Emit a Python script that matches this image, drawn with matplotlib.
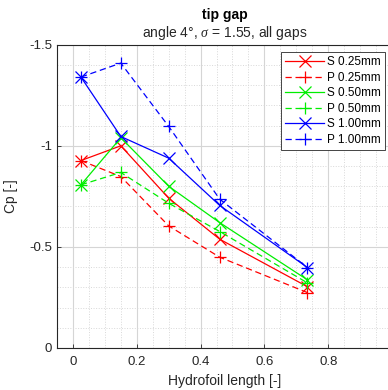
import matplotlib
matplotlib.use("Agg")
import matplotlib.pyplot as plt
from matplotlib.ticker import MultipleLocator

plt.rcParams['font.family'] = ['Liberation Sans', 'DejaVu Sans']
plt.rcParams['mathtext.fontset'] = 'custom'
plt.rcParams['mathtext.it'] = 'Liberation Serif:italic'

# hydrofoil positions (same for every series)
x_pos = [0.025, 0.15, 0.30, 0.46, 0.735]

# Cp values
s_025 = [-0.927, -1.00, -0.741, -0.538, -0.303]
p_025 = [-0.927, -0.848, -0.604, -0.449, -0.274]
s_050 = [-0.807, -1.04, -0.800, -0.620, -0.337]
p_050 = [-0.807, -0.868, -0.716, -0.576, -0.322]
s_100 = [-1.340, -1.046, -0.939, -0.705, -0.398]
p_100 = [-1.340, -1.409, -1.096, -0.736, -0.398]

labels = ['S 0.25mm', 'P 0.25mm', 'S 0.50mm', 'P 0.50mm', 'S 1.00mm', 'P 1.00mm']
series = [s_025, p_025, s_050, p_050, s_100, p_100]
colors = ['#ff0000', '#ff0000', '#00ee00', '#00ee00', '#0000ff', '#0000ff']
styles = ['-', '--', '-', '--', '-', '--']
markers = ['x', '+', 'x', '+', 'x', '+']

W, H = 388, 390
fig = plt.figure(figsize=(W / 100, H / 100), dpi=100)
# axes runs past the right edge of the picture, like the reference
ax = fig.add_axes([57 / W, 1 - 348 / H, 335 / W, (348 - 44.7) / H])

for y, lab, c, ls, m in zip(series, labels, colors, styles, markers):
    ax.plot(x_pos, y, color=c, linestyle=ls, marker=m, markersize=9,
            markeredgewidth=0.9, linewidth=0.9, label=lab, dashes=(5, 3) if ls == '--' else (None, None))

ax.set_xlim(-0.05, 1.0)
ax.set_ylim(0, -1.5)
ax.set_xticks([0, 0.2, 0.4, 0.6, 0.8, 1.0])
ax.set_xticklabels(['0', '0.2', '0.4', '0.6', '0.8', '1'])
ax.set_yticks([-1.5, -1, -0.5, 0])
ax.set_yticklabels(['-1.5', '-1', '-0.5', '0'])
ax.xaxis.set_minor_locator(MultipleLocator(0.05))
ax.yaxis.set_minor_locator(MultipleLocator(0.1))

ax.grid(True, which='major', color='#d5d5d5', linewidth=0.8)
ax.grid(True, which='minor', color='#d8d8d8', linestyle=':', linewidth=0.7)
ax.set_axisbelow(True)

for s in ax.spines.values():
    s.set_color('#262626')
    s.set_linewidth(0.8)
ax.tick_params(which='both', direction='in', colors='#262626', labelsize=9.5,
               length=3, width=0.6, top=False, right=False)
ax.tick_params(which='minor', length=0)
ax.tick_params(axis='x', pad=6)

ax.set_xlabel('Hydrofoil length [-]', fontsize=10, color='#262626', labelpad=4)
ax.set_ylabel('Cp [-]', fontsize=10, color='#262626', labelpad=8)

ax.text(0.5, 1 + (44.7 - 15) / 303.3, 'tip gap', transform=ax.transAxes,
        ha='center', va='center', fontsize=10, fontweight='bold', color='black')
ax.text(0.5, 1 + (44.7 - 33) / 303.3, r'angle 4°, $\sigma$ = 1.55, all gaps',
        transform=ax.transAxes, ha='center', va='center', fontsize=10, color='#262626')

leg = ax.legend(loc='upper right', bbox_to_anchor=(385 / W, 1 - 52 / H),
                bbox_transform=fig.transFigure, borderaxespad=0, fontsize=8.5,
                handlelength=3.3, handletextpad=0.25, labelspacing=0.3,
                borderpad=0.35, fancybox=False, framealpha=1)
leg.get_frame().set_edgecolor('#262626')
leg.get_frame().set_linewidth(0.6)

fig.savefig('out.png', dpi=100)
